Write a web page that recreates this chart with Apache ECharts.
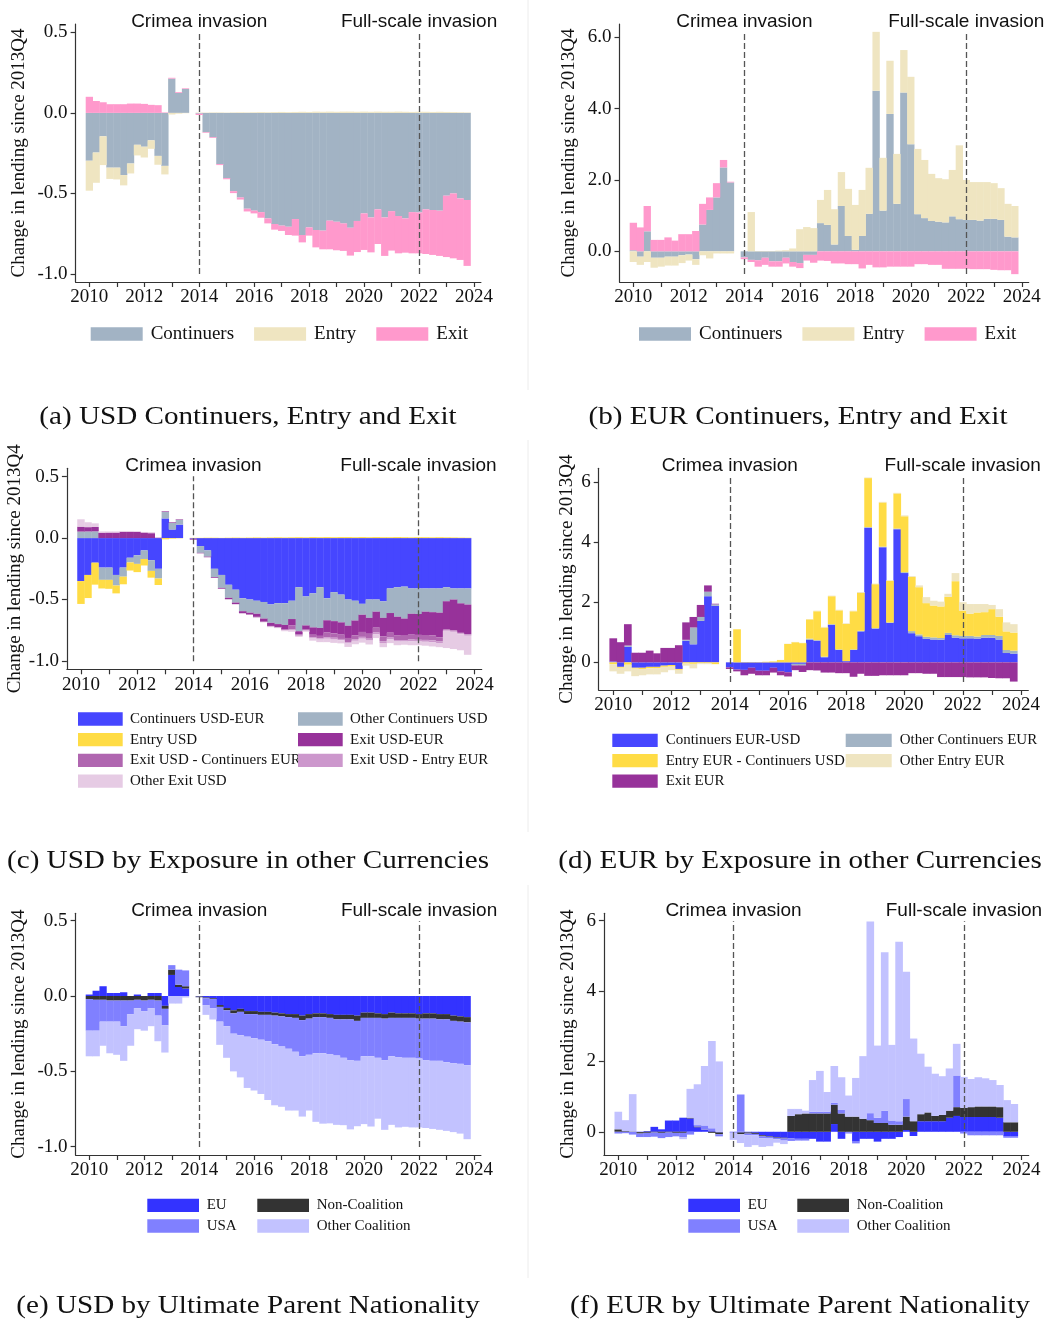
<!DOCTYPE html>
<html><head><meta charset="utf-8">
<script src="https://cdn.jsdelivr.net/npm/echarts@6/dist/echarts.min.js"></script>
<style>html,body{margin:0;padding:0;background:#fff;}#c{width:1053px;height:1322px;}</style>
</head><body><div id="c"></div>
<script>
// ---------- categories (quarters 2009Q3 .. 2024Q2); data cover 2010Q1..2023Q4 ----------
const years = [2009,2010,2011,2012,2013,2014,2015,2016,2017,2018,2019,2020,2021,2022,2023,2024];
const quarters = [];
years.forEach(y => { for (let q = 1; q <= 4; q++) quarters.push(y + 'Q' + q); });
const cats = quarters.slice(2, 62);
const eventQuarters = ['2014Q1', '2022Q1'];
const eventNames = ['Crimea invasion', 'Full-scale invasion'];

// ---------- (a) USD ----------
const usdCont = [-0.297,-0.246,-0.145,-0.340,-0.340,-0.386,-0.314,-0.198,-0.210,-0.170,-0.267,-0.329,0.213,0.124,0.149,0,
-0.005,-0.120,-0.151,-0.318,-0.405,-0.486,-0.525,-0.595,-0.607,-0.616,-0.655,-0.690,-0.700,-0.707,-0.659,-0.758,-0.711,-0.727,-0.731,-0.669,-0.676,-0.686,-0.713,-0.671,-0.624,-0.649,-0.599,-0.649,-0.610,-0.640,-0.655,-0.616,-0.618,-0.599,-0.603,-0.607,-0.514,-0.500,-0.531,-0.541];
const usdEntry = [-0.186,-0.188,-0.179,-0.070,-0.073,-0.064,-0.062,-0.066,-0.067,-0.053,-0.055,-0.053,-0.010,-0.005,-0.002,0,
0.002,0.002,0.003,0.003,0.002,0.003,0.004,0.003,0.004,0.005,0.004,0.005,0.006,0.005,0.006,0.007,0.006,0.008,0.007,0.008,0.007,0.008,0.008,0.007,0.008,0.007,0.008,0.007,0.007,0.008,0.007,0.006,0.007,0.007,0.006,0.007,0.006,0.005,0.004,0.003];
const usdExit = [0.100,0.074,0.066,0.054,0.054,0.054,0.058,0.058,0.056,0.050,0.048,0.003,0.005,0.005,0.004,0,
-0.008,-0.004,-0.005,-0.006,-0.007,-0.012,-0.013,-0.017,-0.017,-0.035,-0.031,-0.035,-0.033,-0.051,-0.103,-0.046,-0.051,-0.108,-0.116,-0.178,-0.177,-0.171,-0.173,-0.193,-0.227,-0.217,-0.215,-0.239,-0.245,-0.232,-0.213,-0.256,-0.254,-0.277,-0.279,-0.281,-0.381,-0.403,-0.382,-0.409];

// ---------- (b) EUR ----------
const eurCont = [0.03,-0.15,0.56,-0.18,-0.18,-0.15,-0.15,-0.11,-0.09,-0.22,0.75,1.16,1.51,2.35,1.93,0,
-0.17,-0.24,-0.25,-0.18,-0.28,-0.28,-0.18,-0.30,-0.33,-0.10,-0.10,0.79,0.74,0.19,1.27,0.43,0.04,0.43,1.05,4.50,1.14,3.85,1.33,4.45,3.00,1.04,0.93,0.85,0.83,0.81,0.98,0.90,0.88,0.88,0.86,0.91,0.91,0.88,0.41,0.39];
const eurEntry = [-0.30,-0.23,-0.30,-0.28,-0.25,-0.25,-0.25,-0.22,-0.17,-0.16,-0.11,-0.20,-0.06,-0.06,-0.06,0,
0,1.10,0.01,0.01,0.01,0.02,0.03,0.08,0.62,0.68,0.65,0.65,0.98,0.99,0.95,1.32,1.26,1.29,1.29,1.65,1.48,1.49,1.40,1.19,1.89,1.83,1.63,1.32,1.22,1.21,1.30,2.07,1.12,1.06,1.08,1.03,1.00,0.89,0.92,0.88];
const eurExit = [0.77,0.67,0.71,0.32,0.32,0.39,0.30,0.48,0.48,0.57,0.58,0.35,0.40,0.21,0.02,0,
-0.05,-0.06,-0.18,-0.20,-0.15,-0.15,-0.16,-0.13,-0.14,-0.16,-0.22,-0.26,-0.27,-0.34,-0.34,-0.36,-0.36,-0.48,-0.38,-0.45,-0.45,-0.43,-0.43,-0.43,-0.43,-0.36,-0.36,-0.38,-0.38,-0.49,-0.49,-0.49,-0.49,-0.50,-0.50,-0.50,-0.52,-0.53,-0.53,-0.64];

// ---------- (c) USD by exposure ----------
const usdContUsdEur = [-0.35,-0.30,-0.20,-0.24,-0.24,-0.30,-0.24,-0.16,-0.14,-0.10,-0.18,-0.25,0.16,0.07,0.11,0,
-0.005,-0.065,-0.10,-0.25,-0.30,-0.38,-0.42,-0.49,-0.50,-0.51,-0.52,-0.54,-0.53,-0.53,-0.51,-0.40,-0.475,-0.45,-0.40,-0.49,-0.44,-0.46,-0.50,-0.51,-0.535,-0.50,-0.50,-0.515,-0.41,-0.40,-0.395,-0.41,-0.41,-0.41,-0.41,-0.41,-0.40,-0.41,-0.41,-0.41];
const usdOtherCont = [0.053,0.054,0.055,-0.100,-0.100,-0.086,-0.074,-0.038,-0.070,-0.070,-0.087,-0.079,0.053,0.054,0.039,0,
0,-0.055,-0.051,-0.068,-0.105,-0.106,-0.105,-0.105,-0.107,-0.106,-0.135,-0.150,-0.170,-0.177,-0.149,-0.358,-0.236,-0.277,-0.331,-0.179,-0.236,-0.226,-0.213,-0.161,-0.089,-0.149,-0.099,-0.134,-0.200,-0.240,-0.260,-0.206,-0.208,-0.189,-0.193,-0.197,-0.114,-0.090,-0.121,-0.131];
const usdExitUsdEur = [0.040,0.035,0.035,0.044,0.045,0.045,0.050,0.050,0.050,0.045,0.040,0.003,0.005,0.005,0.004,0,
-0.008,-0.004,-0.005,-0.006,-0.007,-0.012,-0.013,-0.017,-0.015,-0.025,-0.025,-0.025,-0.025,-0.035,-0.050,-0.025,-0.030,-0.060,-0.065,-0.100,-0.100,-0.100,-0.100,-0.120,-0.140,-0.130,-0.130,-0.150,-0.160,-0.150,-0.140,-0.170,-0.170,-0.190,-0.190,-0.200,-0.230,-0.250,-0.240,-0.240];
const usdExitContEur = [0,0,0,0,0,0,0,0,0,0,0,0,0,0,0,0,
0,0,0,0,0,0,0,0,-0.002,-0.005,-0.003,-0.005,-0.004,-0.008,-0.035,-0.010,-0.010,-0.020,-0.020,-0.040,-0.035,-0.035,-0.035,-0.035,-0.040,-0.040,-0.040,-0.040,-0.040,-0.040,-0.035,-0.040,-0.040,-0.040,-0.040,-0.035,-0.005,-0.005,-0.005,-0.005];
const usdExitEntryEur = [0,0,0,0,0,0,0,0,0,0,0,0,0,0,0,0,
0,0,0,0,0,0,0,0,0,0,0,0,0,0,-0.005,-0.003,-0.003,-0.010,-0.010,-0.010,-0.015,-0.010,-0.010,-0.010,-0.015,-0.015,-0.015,-0.015,-0.015,-0.012,-0.012,-0.015,-0.014,-0.015,-0.016,-0.016,-0.006,-0.008,-0.007,-0.009];
const usdOtherExit = [0.060,0.040,0.030,0.010,0.009,0.009,0.008,0.008,0.006,0.005,0.008,0,0,0,0,0,
0,0,0,0,0,0,0,0,0,-0.005,-0.003,-0.005,-0.004,-0.008,-0.013,-0.008,-0.008,-0.018,-0.021,-0.028,-0.027,-0.026,-0.028,-0.028,-0.032,-0.032,-0.030,-0.034,-0.030,-0.030,-0.026,-0.031,-0.030,-0.032,-0.033,-0.030,-0.140,-0.140,-0.130,-0.155];

// ---------- (d) EUR by exposure ----------
const eurContEurUsd = [0.03,-0.15,0.52,-0.18,-0.18,-0.15,-0.15,-0.11,-0.09,-0.22,0.72,0.60,1.38,2.20,1.88,0,
-0.17,-0.24,-0.25,-0.18,-0.28,-0.28,-0.18,-0.30,-0.33,-0.05,-0.05,0.75,0.72,0.17,1.25,0.41,0.04,0.41,1.03,4.48,1.12,3.83,1.31,4.43,2.97,0.97,0.87,0.78,0.76,0.75,0.91,0.82,0.80,0.80,0.79,0.82,0.82,0.76,0.31,0.29];
const eurOtherCont = [0,0,0.04,0,0,0,0,0,0,0,0.03,0.56,0.13,0.15,0.05,0,
0,0,0,0,0,0,0,0,0,-0.05,-0.05,0.04,0.02,0.02,0.02,0.02,0,0.02,0.02,0.02,0.02,0.02,0.02,0.02,0.03,0.07,0.06,0.07,0.07,0.06,0.07,0.08,0.08,0.08,0.07,0.09,0.09,0.12,0.10,0.10];
const eurEntryContUsd = [-0.06,-0.03,-0.08,-0.03,-0.04,-0.05,-0.04,-0.04,-0.05,-0.03,-0.04,-0.05,-0.03,-0.03,-0.06,0,
0,1.10,0.01,0.01,0.01,0.02,0.03,0.08,0.61,0.67,0.64,0.64,0.96,0.97,0.93,1.30,1.24,1.27,1.26,1.63,1.46,1.47,1.38,1.17,1.86,1.80,1.57,1.12,1.06,1.05,1.20,1.80,0.84,0.74,0.80,0.76,0.86,0.64,0.62,0.60];
const eurOtherEntry = [-0.24,-0.20,-0.22,-0.25,-0.21,-0.20,-0.21,-0.18,-0.12,-0.13,-0.07,-0.15,-0.03,-0.03,0,0,
0,0,0,0,0,0,0,0,0.01,0.01,0.01,0.01,0.02,0.02,0.02,0.02,0.02,0.02,0.03,0.02,0.02,0.02,0.02,0.02,0.03,0.03,0.06,0.20,0.16,0.16,0.10,0.27,0.28,0.32,0.28,0.27,0.14,0.25,0.30,0.28];

// ---------- (e) USD by parent nationality ----------
const usdEU = [0.010,0.035,0.065,0.020,0.020,0.025,0.000,0.010,0.000,0.020,0.020,-0.065,0.140,0.060,0.050,0,
-0.003,-0.010,-0.015,-0.060,-0.080,-0.095,-0.085,-0.100,-0.100,-0.105,-0.105,-0.110,-0.115,-0.120,-0.120,-0.130,-0.120,-0.115,-0.115,-0.120,-0.125,-0.125,-0.125,-0.130,-0.110,-0.110,-0.115,-0.120,-0.110,-0.115,-0.115,-0.115,-0.120,-0.115,-0.115,-0.120,-0.120,-0.130,-0.135,-0.140];
const usdNonCoal = [-0.020,-0.025,-0.025,-0.030,-0.030,-0.030,-0.030,-0.025,-0.030,-0.025,-0.030,-0.020,0.035,0.015,0.015,0,
-0.005,-0.005,-0.005,-0.012,-0.015,-0.020,-0.020,-0.020,-0.020,-0.020,-0.020,-0.020,-0.020,-0.020,-0.025,-0.030,-0.030,-0.025,-0.025,-0.025,-0.030,-0.030,-0.030,-0.035,-0.035,-0.035,-0.030,-0.030,-0.035,-0.030,-0.030,-0.030,-0.030,-0.035,-0.035,-0.035,-0.035,-0.035,-0.035,-0.035];
const usdUSA = [-0.210,-0.205,-0.145,-0.140,-0.140,-0.170,-0.090,-0.055,-0.070,-0.055,-0.100,-0.110,0.030,0.100,0.105,0,
0,-0.045,-0.060,-0.098,-0.105,-0.135,-0.155,-0.150,-0.160,-0.165,-0.175,-0.190,-0.200,-0.210,-0.225,-0.240,-0.240,-0.240,-0.240,-0.240,-0.240,-0.255,-0.270,-0.265,-0.255,-0.255,-0.265,-0.275,-0.255,-0.260,-0.265,-0.265,-0.265,-0.275,-0.280,-0.275,-0.285,-0.280,-0.280,-0.285];
const usdOtherCoal = [-0.170,-0.170,-0.160,-0.210,-0.220,-0.230,-0.210,-0.140,-0.130,-0.120,-0.170,-0.180,-0.050,-0.050,-0.010,0,
-0.002,-0.065,-0.076,-0.154,-0.210,-0.250,-0.280,-0.340,-0.347,-0.360,-0.390,-0.405,-0.400,-0.410,-0.390,-0.400,-0.370,-0.455,-0.467,-0.460,-0.460,-0.447,-0.460,-0.434,-0.450,-0.466,-0.404,-0.463,-0.455,-0.467,-0.458,-0.462,-0.457,-0.451,-0.452,-0.458,-0.455,-0.458,-0.463,-0.490];

// ---------- (f) EUR by parent nationality ----------
const eurEU = [0,0,0,-0.01,0.02,0.14,0.07,0.32,0.32,0.40,0.38,0.13,0.05,0.02,-0.02,0,
-0.01,-0.02,-0.02,-0.03,-0.10,-0.12,-0.15,-0.17,-0.19,-0.20,-0.20,-0.20,-0.28,-0.28,0.22,-0.20,-0.02,-0.28,-0.20,-0.20,-0.28,-0.20,-0.20,-0.15,0.05,-0.12,0.30,0.30,0.30,0.30,0.40,0.45,0.42,0.42,0.42,0.42,0.42,0.40,-0.12,-0.12];
const eurNonCoal = [0.07,0.02,0.01,-0.04,-0.03,-0.02,-0.03,-0.02,-0.03,-0.03,0.02,0.02,0.01,-0.03,-0.05,0,
0,-0.05,-0.03,-0.03,-0.03,-0.02,-0.02,-0.02,0.45,0.50,0.52,0.52,0.52,0.52,0.55,0.52,0.43,0.43,0.37,0.33,0.25,0.25,0.20,0.20,0.38,0.30,0.20,0.25,0.15,0.18,0.20,0.25,0.26,0.28,0.30,0.30,0.30,0.30,0.27,0.27];
const eurUSA = [-0.05,-0.04,-0.08,-0.10,-0.12,-0.12,-0.15,-0.13,-0.10,-0.13,-0.08,0.04,0.12,0.08,-0.06,0,
-0.02,1.06,-0.05,-0.04,-0.05,-0.05,-0.04,-0.06,-0.07,-0.05,-0.05,0.05,0.05,0.05,0.05,0.10,-0.03,-0.05,0,0.20,0.15,0.35,0.12,0.10,0.50,0,0,0,0,0,0,0.90,-0.05,-0.10,-0.10,-0.10,-0.10,-0.10,-0.05,-0.05];
const eurOtherCoal = [0.50,0.31,1.06,0.02,0,0,0,0,0,-0.05,0.82,1.16,1.69,2.48,2.00,0,
-0.20,-0.25,-0.33,-0.28,-0.25,-0.22,-0.10,-0.10,0.20,0.15,0.08,0.90,1.16,0.56,1.05,0.93,0.60,1.10,1.78,5.45,2.05,4.50,2.15,5.10,3.62,2.35,1.72,1.30,1.20,1.10,1.20,0.90,0.88,0.80,0.83,0.80,0.75,0.63,0.63,0.52];

// ---------- styling ----------
const SERIF = '"Liberation Serif", "Times New Roman", serif';
const SANS = '"Liberation Sans", Arial, sans-serif';
const COL = {gray:'#a2b3c4', beige:'#efe5c1', pink:'#ff99cc', blue:'#4646ff', yellow:'#ffdc45',
  purple:'#97329a', medPurple:'#b066b0', lightPurple:'#cc97cc', vLight:'#e6cbe4',
  eu:'#3333ff', nonCoal:'#333333', usa:'#8080ff', otherCoal:'#c2c2ff'};
const pad = arr => [null, null].concat(arr.map(v => (v === 0 ? null : v)), [null, null]);

const panels = [
 {grid:{left:75.6, top:24, width:405.3, height:258}, y:[-1.05,0.552], ticks:[-1,-0.5,0,0.5], dec:1, nameGap:47,
  series:[['Continuers',usdCont,COL.gray],['Entry',usdEntry,COL.beige],['Exit',usdExit,COL.pink]],
  legends:[{orient:'horizontal', left:90.7, top:324.5, itemWidth:52, itemHeight:13.5, itemGap:20, fontSize:19, pad:3, data:['Continuers','Entry','Exit']}],
  caption:['(a) USD Continuers, Entry and Exit', 248, 417]},
 {grid:{left:619.5, top:24, width:409.2, height:258}, y:[-0.86,6.37], ticks:[0,2,4,6], dec:1, nameGap:41,
  series:[['Continuers',eurCont,COL.gray],['Entry',eurEntry,COL.beige],['Exit',eurExit,COL.pink]],
  legends:[{orient:'horizontal', left:639, top:324.5, itemWidth:52, itemHeight:13.5, itemGap:20, fontSize:19, pad:3, data:['Continuers','Entry','Exit']}],
  caption:['(b) EUR Continuers, Entry and Exit', 798, 417]},
 {grid:{left:66.9, top:468.3, width:414.8, height:201}, y:[-1.068,0.568], ticks:[-1,-0.5,0,0.5], dec:1, nameGap:41,
  series:[['Continuers USD-EUR',usdContUsdEur,COL.blue],['Other Continuers USD',usdOtherCont,COL.gray],['Entry USD',usdEntry,COL.yellow],
          ['Exit USD-EUR',usdExitUsdEur,COL.purple],['Exit USD - Continuers EUR',usdExitContEur,COL.medPurple],
          ['Exit USD - Entry EUR',usdExitEntryEur,COL.lightPurple],['Other Exit USD',usdOtherExit,COL.vLight]],
  legends:[{orient:'vertical', left:78, top:711.5, itemWidth:44.7, itemHeight:13.3, itemGap:5.7, fontSize:15, pad:2.3,
            data:['Continuers USD-EUR','Entry USD','Exit USD - Continuers EUR','Other Exit USD']},
           {orient:'vertical', left:298, top:711.5, itemWidth:44.7, itemHeight:13.3, itemGap:5.7, fontSize:15, pad:2.3,
            data:['Other Continuers USD','Exit USD-EUR','Exit USD - Entry EUR']}],
  caption:['(c) USD by Exposure in other Currencies', 248, 861]},
 {grid:{left:598.7, top:468.3, width:429.6, height:221.7}, y:[-0.92,6.456], ticks:[0,2,4,6], dec:0, nameGap:22,
  series:[['Continuers EUR-USD',eurContEurUsd,COL.blue],['Other Continuers EUR',eurOtherCont,COL.gray],
          ['Entry EUR - Continuers USD',eurEntryContUsd,COL.yellow],['Other Entry EUR',eurOtherEntry,COL.beige],['Exit EUR',eurExit,COL.purple]],
  legends:[{orient:'vertical', left:612.3, top:732.8, itemWidth:45.4, itemHeight:13.3, itemGap:5.4, fontSize:15, pad:3,
            data:['Continuers EUR-USD','Entry EUR - Continuers USD','Exit EUR']},
           {orient:'vertical', left:845.7, top:732.8, itemWidth:46, itemHeight:13.3, itemGap:5.4, fontSize:15, pad:3,
            data:['Other Continuers EUR','Other Entry EUR']}],
  caption:['(d) EUR by Exposure in other Currencies', 800, 861]},
 {grid:{left:75.6, top:913.3, width:405.3, height:241.7}, y:[-1.055,0.549], ticks:[-1,-0.5,0,0.5], dec:1, nameGap:47,
  series:[['EU',usdEU,COL.eu],['Non-Coalition',usdNonCoal,COL.nonCoal],['USA',usdUSA,COL.usa],['Other Coalition',usdOtherCoal,COL.otherCoal]],
  legends:[{orient:'vertical', left:147.3, top:1197.8, itemWidth:51.7, itemHeight:13.3, itemGap:5.7, fontSize:15, pad:2.7, data:['EU','USA']},
           {orient:'vertical', left:257.3, top:1197.8, itemWidth:51.7, itemHeight:13.3, itemGap:5.7, fontSize:15, pad:2.7, data:['Non-Coalition','Other Coalition']}],
  caption:['(e) USD by Ultimate Parent Nationality', 248, 1306]},
 {grid:{left:603.9, top:913.3, width:424.8, height:241.7}, y:[-0.66,6.21], ticks:[0,2,4,6], dec:0, nameGap:26,
  series:[['EU',eurEU,COL.eu],['Non-Coalition',eurNonCoal,COL.nonCoal],['USA',eurUSA,COL.usa],['Other Coalition',eurOtherCoal,COL.otherCoal]],
  legends:[{orient:'vertical', left:688.3, top:1197.8, itemWidth:51.7, itemHeight:13.3, itemGap:5.7, fontSize:15, pad:2.7, data:['EU','USA']},
           {orient:'vertical', left:797.3, top:1197.8, itemWidth:51.7, itemHeight:13.3, itemGap:5.7, fontSize:15, pad:2.7, data:['Non-Coalition','Other Coalition']}],
  caption:['(f) EUR by Ultimate Parent Nationality', 800, 1306]}
];

const AX = '#333';
const option = {animation:false, backgroundColor:'#fff', grid:[], xAxis:[], yAxis:[], series:[], legend:[], graphic:[]};

panels.forEach((p, k) => {
  option.grid.push(Object.assign({containLabel:false, outerBoundsMode:'none'}, p.grid));
  option.xAxis.push({type:'category', gridIndex:k, data:cats, boundaryGap:false,
    axisLine:{show:true, onZero:false, lineStyle:{color:AX, width:1.2}},
    axisTick:{show:true, length:5, interval:(i, v) => v.endsWith('Q1'), lineStyle:{color:AX, width:1.2}},
    axisLabel:{interval:(i, v) => v.endsWith('Q1') && (+v.slice(0, 4)) % 2 === 0, formatter:v => v.slice(0, 4),
      fontFamily:SERIF, fontSize:19, color:'#111', margin:6},
    splitLine:{show:false}});
  option.yAxis.push({type:'value', gridIndex:k, min:p.y[0], max:p.y[1],
    axisLine:{show:true, lineStyle:{color:AX, width:1.2}},
    axisTick:{show:true, length:5, customValues:p.ticks, lineStyle:{color:AX, width:1.2}},
    axisLabel:{customValues:p.ticks, formatter:v => v.toFixed(p.dec), fontFamily:SERIF, fontSize:19, color:'#111', margin:8},
    splitLine:{show:false},
    name:'Change in lending since 2013Q4', nameLocation:'middle', nameGap:p.nameGap,
    nameTextStyle:{fontFamily:SERIF, fontSize:19, color:'#111'}});
  const inset = 8 / p.grid.height * (p.y[1] - p.y[0]);
  const yTop = p.y[1] - inset, yBot = p.y[0] + inset;
  p.series.forEach(([name, arr, color], j) => {
    const s = {type:'bar', name, xAxisIndex:k, yAxisIndex:k, stack:'p' + k, data:pad(arr),
      itemStyle:{color}, barWidth:'106%', barGap:'0%', silent:true};
    if (j === 0) {
      s.markLine = {symbol:'none', silent:true, animation:false,
        lineStyle:{type:[6, 3], color:'#555', width:1.3},
        label:{show:true, position:'end', formatter:'{b}', fontFamily:SANS, fontSize:19, color:'#111', distance:1},
        data:eventQuarters.map((q, n) => [{name:eventNames[n], coord:[q, yBot]}, {name:eventNames[n], coord:[q, yTop]}])};
    }
    option.series.push(s);
  });
  p.legends.forEach(L => {
    option.legend.push({orient:L.orient, left:L.left, top:L.top, itemWidth:L.itemWidth, itemHeight:L.itemHeight,
      itemGap:L.itemGap, icon:'rect', selectedMode:false, data:L.data, padding:0,
      textStyle:{fontFamily:SERIF, fontSize:L.fontSize, lineHeight:L.fontSize, color:'#111', padding:[0, 0, 0, L.pad]}});
  });
  option.graphic.push({type:'text', x:p.caption[1], y:p.caption[2], scaleX:1.12, silent:true,
    style:{text:p.caption[0], x:0, y:0, textAlign:'center', textVerticalAlign:'middle', font:'26px ' + SERIF, fill:'#111'}});
});
[[0, 390], [440, 832], [885, 1278]].forEach(([a, b]) => {
  option.graphic.push({type:'line', silent:true, shape:{x1:528, y1:a, x2:528, y2:b}, style:{stroke:'#ececec', lineWidth:1}});
});

const chart = echarts.init(document.getElementById('c'), null, {renderer:'canvas'});
chart.setOption(option);
</script></body></html>
